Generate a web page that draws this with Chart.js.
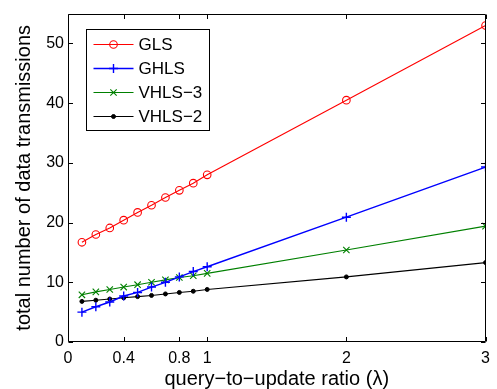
<!DOCTYPE html>
<html>
<head>
<meta charset="utf-8">
<script src="https://cdn.jsdelivr.net/npm/chart.js@4"></script>
<style>
html,body{margin:0;padding:0;background:#fff;}
#wrap{width:497px;height:389px;position:relative;}
</style>
</head>
<body>
<div id="wrap"><canvas id="c" width="497" height="389"></canvas></div>
<script>
const xValues = [0.1, 0.2, 0.3, 0.4, 0.5, 0.6, 0.7, 0.8, 0.9, 1.0, 2, 3];
const glsValues = [16.7, 18.0, 19.1, 20.4, 21.7, 22.9, 24.2, 25.4, 26.6, 28.0, 40.5, 53.0];
const ghlsValues = [5.0, 5.9, 6.7, 7.7, 8.3, 9.2, 10.0, 10.9, 11.8, 12.6, 20.9, 29.3];
const vhls3Values = [7.9, 8.4, 8.8, 9.2, 9.6, 10.0, 10.4, 10.8, 11.1, 11.5, 15.4, 19.4];
const vhls2Values = [6.8, 7.0, 7.2, 7.4, 7.6, 7.8, 8.05, 8.3, 8.5, 8.8, 10.9, 13.3];
const xTicks = [0, 0.4, 0.8, 1, 2, 3];
const yTicks = [0, 10, 20, 30, 40, 50];
const seriesNames = ['GLS', 'GHLS', 'VHLS\u22123', 'VHLS\u22122'];

const FONT = 'Liberation Sans, Arial, Helvetica, sans-serif';

function pts(vals){ return xValues.map((x,i)=>({x:x, y:vals[i]})); }

const datasets = [
  {label: seriesNames[0], data: pts(glsValues), borderColor:'#ff0000', backgroundColor:'rgba(0,0,0,0)', pointStyle:'circle', pointRadius:3.8, pointBorderColor:'#ff0000', pointBackgroundColor:'rgba(0,0,0,0)', borderWidth:1.1, pointBorderWidth:1.1},
  {label: seriesNames[1], data: pts(ghlsValues), borderColor:'#0000ff', backgroundColor:'#0000ff', pointStyle:'cross', pointRadius:4.5, pointBorderColor:'#0000ff', pointBackgroundColor:'#0000ff', borderWidth:1.4, pointBorderWidth:1.4},
  {label: seriesNames[2], data: pts(vhls3Values), borderColor:'#008000', backgroundColor:'#008000', pointStyle:'crossRot', pointRadius:4.5, pointBorderColor:'#008000', pointBackgroundColor:'#008000', borderWidth:1.1, pointBorderWidth:1.1},
  {label: seriesNames[3], data: pts(vhls2Values), borderColor:'#000000', backgroundColor:'#000000', pointStyle:'circle', pointRadius:2, pointBorderColor:'#000000', pointBackgroundColor:'#000000', borderWidth:1.1, pointBorderWidth:1}
];

const framePlugin = {
  id:'frame',
  afterDatasetsDraw(chart){
    const ctx = chart.ctx, a = chart.chartArea;
    const xs = chart.scales.x, ys = chart.scales.y;
    ctx.save();
    ctx.strokeStyle = '#000';
    ctx.lineWidth = 1;
    ctx.beginPath();
    const L = Math.round(a.left)+0.5, R = Math.round(a.right)-0.5, T = Math.round(a.top)+0.5, B = Math.round(a.bottom)-0.5;
    ctx.rect(L, T, R-L, B-T);
    ctx.stroke();
    const tl = 4.5;
    ctx.beginPath();
    xTicks.forEach(v=>{
      const px = Math.round(xs.getPixelForValue(v))+0.5;
      ctx.moveTo(px, B); ctx.lineTo(px, B-tl);
      ctx.moveTo(px, T); ctx.lineTo(px, T+tl);
    });
    yTicks.forEach(v=>{
      const py = Math.round(ys.getPixelForValue(v))+0.5;
      ctx.moveTo(L, py); ctx.lineTo(L+tl, py);
      ctx.moveTo(R, py); ctx.lineTo(R-tl, py);
    });
    ctx.stroke();

    // legend box
    const bx = L + 18, by = T + 15, bw = 123, bh = 101;
    ctx.fillStyle = '#fff';
    ctx.fillRect(bx, by, bw, bh);
    ctx.strokeRect(bx, by, bw, bh);
    ctx.font = '17px ' + FONT;
    ctx.textBaseline = 'middle';
    ctx.textAlign = 'left';
    chart.data.datasets.forEach((ds, i)=>{
      const ry = by + 15 + i*24;
      ctx.save();
      ctx.strokeStyle = ds.borderColor;
      ctx.lineWidth = ds.borderWidth;
      ctx.beginPath();
      ctx.moveTo(bx+7, ry); ctx.lineTo(bx+47, ry);
      ctx.stroke();
      ctx.fillStyle = ds.pointBackgroundColor;
      ctx.strokeStyle = ds.pointBorderColor;
      ctx.lineWidth = ds.pointBorderWidth;
      Chart.helpers.drawPoint(ctx, {pointStyle: ds.pointStyle, radius: ds.pointRadius, rotation:0, borderWidth: ds.pointBorderWidth}, bx+27, ry);
      ctx.restore();
      ctx.fillStyle = '#000';
      ctx.fillText(ds.label, bx+52, ry+1);
    });
    ctx.restore();
  }
};

new Chart(document.getElementById('c'), {
  type:'line',
  data:{datasets},
  options:{
    responsive:false,
    animation:false,
    devicePixelRatio:1,
    layout:{padding:{left:0, right:5, top:12, bottom:0}},
    plugins:{legend:{display:false}, tooltip:{enabled:false}},
    elements:{line:{tension:0}},
    scales:{
      x:{
        type:'linear', min:0, max:3,
        afterBuildTicks(s){ s.ticks = xTicks.map(v=>({value:v})); },
        afterFit(s){ s.height = 47; },
        grid:{display:false, drawTicks:false},
        border:{display:false},
        ticks:{color:'#000', font:{family:FONT, size:16}, padding:7, maxRotation:0, autoSkip:false, callback:v=>String(v)},
        title:{display:true, text:'query\u2212to\u2212update ratio (\u03bb)', color:'#000', font:{family:FONT, size:20, lineHeight:1}, padding:{top:0,bottom:0}}
      },
      y:{
        type:'linear', min:0, max:55,
        afterBuildTicks(s){ s.ticks = yTicks.map(v=>({value:v})); },
        afterFit(s){ s.width = 68; },
        grid:{display:false, drawTicks:false},
        border:{display:false},
        ticks:{color:'#000', font:{family:FONT, size:16}, padding:4, callback:v=>String(v)},
        title:{display:true, text:'total number of data transmissions', color:'#000', font:{family:FONT, size:20, lineHeight:1.2}, padding:{top:12,bottom:0}}
      }
    }
  },
  plugins:[framePlugin]
});
</script>
</body>
</html>
